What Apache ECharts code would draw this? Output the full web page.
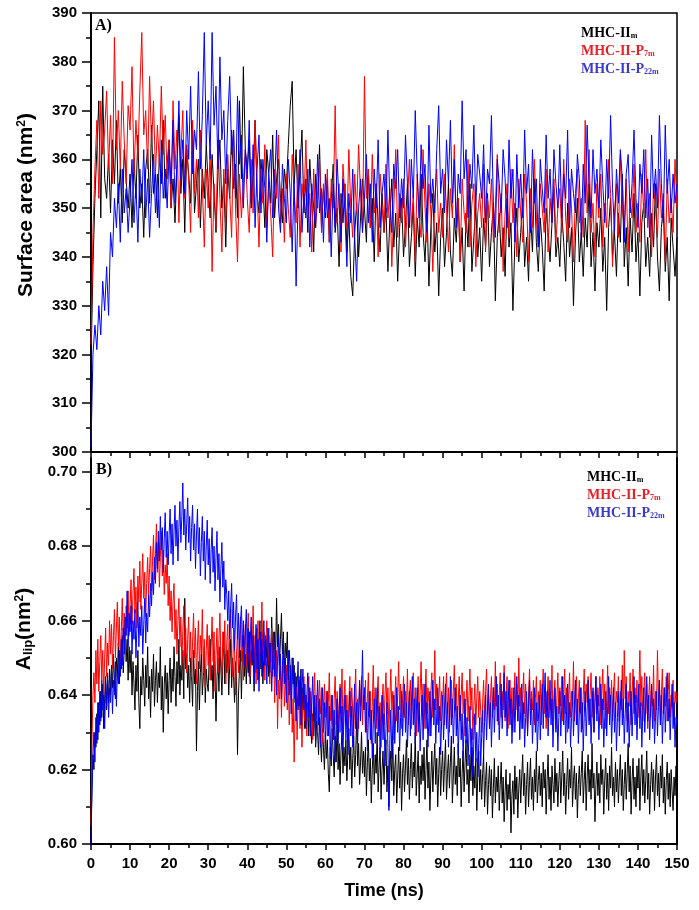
<!DOCTYPE html>
<html><head><meta charset="utf-8">
<script src="https://cdn.jsdelivr.net/npm/echarts@6/dist/echarts.min.js"></script>
<style>html,body{margin:0;padding:0;background:#fff}#c{width:699px;height:910px}</style>
</head><body><div id="c"></div>
<script>
// sampling steps of the time axis (ns)
const stepA = 0.5;   // panel A
const stepB = 0.25;  // panel B
const seriesNames = ['MHC-IIm', 'MHC-II-P7m', 'MHC-II-P22m'];

// Panel A: surface area (nm^2), one value every 0.5 ns from 0 to 150 ns
const surfBlack = [
318,338,352,362,372,348,375,356,352,361,349,364,355,368,351,358,347,362,356,350,
357,346,360,352,365,350,355,344,358,362,351,367,353,357,348,361,355,368,352,359,
364,350,356,347,358,369,353,360,345,362,357,351,366,349,355,360,346,358,352,363,
355,348,361,353,345,357,364,350,356,342,358,352,366,354,359,348,372,356,379,362,
358,364,350,357,368,353,349,360,355,346,362,357,351,365,348,356,360,352,347,358,
354,363,371,376,355,362,350,358,366,349,356,345,360,352,341,357,350,363,346,354,
348,356,343,352,359,345,350,338,353,347,355,341,349,336,332,345,351,340,348,356,
350,343,358,346,352,339,355,347,341,353,345,350,337,348,356,342,349,335,346,352,
340,347,355,338,344,351,336,348,342,357,345,339,350,334,346,353,341,347,332,344,
350,338,345,355,341,336,348,343,352,339,346,333,349,342,355,337,344,350,340,346,
335,348,342,353,338,345,351,331,344,349,340,346,336,352,342,347,329,343,350,339,
345,352,338,344,335,349,341,356,343,337,348,342,333,350,345,339,347,354,340,344,
338,349,343,335,351,340,346,330,344,352,339,345,336,348,342,355,338,345,333,347,
342,350,337,344,329,346,352,340,345,336,349,343,357,338,346,334,348,341,353,339,
345,332,347,351,338,344,336,349,342,355,340,333,346,350,337,344,331,348,342,336,
344];
const surfRed = [
322,345,358,368,352,372,361,366,374,358,369,355,385,362,370,358,376,364,355,371,
366,379,357,368,360,374,386,365,370,358,377,363,372,357,367,359,375,361,369,356,
364,350,372,358,366,347,361,370,352,363,356,345,368,353,360,348,366,355,342,358,
350,362,337,355,346,364,352,341,358,347,361,353,344,366,350,339,357,348,355,362,
352,345,360,349,368,355,342,358,351,363,346,355,349,340,358,352,365,347,354,343,
357,350,344,361,353,347,359,342,355,350,364,348,353,341,358,346,352,360,345,355,
349,358,343,356,350,371,347,355,341,359,352,346,362,350,344,357,349,363,353,345,
377,352,358,346,361,349,355,340,357,351,345,359,348,354,338,350,362,344,353,347,
356,342,351,360,346,353,339,357,348,344,362,350,343,355,349,337,352,358,345,351,
344,357,350,341,354,348,363,346,352,339,356,349,345,360,342,351,355,338,349,353,
346,359,341,352,348,356,343,350,361,345,353,337,349,355,344,358,347,351,340,356,
349,343,357,351,339,354,346,360,348,342,355,350,345,358,341,352,347,356,343,350,
354,345,360,348,343,356,350,339,353,358,347,352,344,368,349,362,345,351,340,355,
348,357,342,351,346,360,353,338,349,355,344,361,350,346,356,341,352,348,359,345,
351,343,357,349,362,346,353,340,355,350,344,358,348,353,339,356,347,352,345,360,
350];
const surfBlue = [
301,320,326,321,330,324,335,329,338,328,345,340,352,346,355,343,358,349,354,345,
352,360,347,355,343,358,351,362,348,356,344,353,361,349,357,346,364,352,358,350,
362,355,368,351,359,372,356,364,353,370,360,375,357,366,362,378,358,369,386,363,
372,360,386,367,375,358,381,364,370,355,368,377,361,366,352,373,359,365,350,362,
356,368,351,363,346,358,365,349,360,354,343,357,362,348,355,366,350,345,359,352,
347,360,353,341,356,334,351,362,345,353,348,358,342,355,350,346,361,349,354,343,
357,348,352,340,355,346,360,351,343,356,349,338,353,347,358,344,335,350,356,345,
352,361,347,355,343,358,350,364,346,353,357,349,366,351,345,359,354,362,348,356,
350,365,355,346,360,352,370,357,348,363,354,359,345,367,351,356,349,362,371,353,
358,349,364,355,368,351,360,346,357,353,372,356,362,348,359,354,367,350,361,357,
352,363,347,358,355,369,351,344,360,355,349,362,356,346,364,352,358,343,361,350,
357,348,366,353,359,345,362,351,356,342,360,354,349,365,352,358,347,362,355,350,
363,348,357,352,366,346,358,353,349,361,356,344,359,351,367,355,348,362,353,358,
350,364,355,347,360,352,369,354,345,358,351,362,356,343,357,361,349,355,366,352,
346,359,353,362,348,356,344,365,352,358,350,369,355,347,367,353,360,349,357,351,
355];

// Panel B: area per lipid (nm^2), one value every 0.25 ns from 0 to 150 ns
const alipBlack = [
0.603,0.615,0.624,0.620,0.630,0.626,0.635,0.628,0.638,0.632,0.641,0.634,0.643,0.631,0.639,0.645,0.636,0.644,0.638,0.647,
0.640,0.648,0.642,0.651,0.644,0.639,0.650,0.645,0.654,0.643,0.651,0.647,0.656,0.646,0.652,0.658,0.649,0.655,0.644,0.653,
0.646,0.652,0.640,0.649,0.643,0.636,0.648,0.641,0.652,0.638,0.631,0.645,0.640,0.650,0.644,0.637,0.648,0.642,0.653,0.639,
0.645,0.634,0.647,0.641,0.651,0.637,0.644,0.649,0.638,0.646,0.642,0.653,0.636,0.645,0.630,0.643,0.648,0.639,0.646,0.635,
0.644,0.650,0.638,0.647,0.641,0.653,0.645,0.637,0.649,0.643,0.655,0.640,0.648,0.644,0.652,0.639,0.666,0.647,0.651,0.642,
0.648,0.638,0.650,0.645,0.637,0.652,0.643,0.647,0.625,0.641,0.649,0.636,0.646,0.651,0.640,0.645,0.653,0.638,0.647,0.643,
0.641,0.650,0.655,0.644,0.648,0.639,0.652,0.646,0.633,0.645,0.650,0.641,0.653,0.647,0.640,0.649,0.657,0.643,0.651,0.646,
0.652,0.640,0.648,0.655,0.642,0.650,0.645,0.638,0.649,0.644,0.624,0.640,0.647,0.652,0.639,0.650,0.656,0.645,0.651,0.643,
0.651,0.646,0.657,0.643,0.652,0.648,0.654,0.641,0.650,0.646,0.658,0.644,0.652,0.660,0.647,0.655,0.643,0.652,0.648,0.656,
0.650,0.658,0.645,0.654,0.649,0.661,0.652,0.647,0.657,0.650,0.666,0.653,0.659,0.648,0.655,0.662,0.651,0.657,0.646,0.654,
0.650,0.657,0.644,0.652,0.647,0.641,0.650,0.643,0.648,0.638,0.645,0.640,0.636,0.644,0.639,0.647,0.634,0.642,0.637,0.631,
0.640,0.633,0.638,0.629,0.636,0.631,0.627,0.635,0.629,0.637,0.626,0.633,0.630,0.624,0.634,0.628,0.622,0.631,0.626,0.620,
0.630,0.623,0.628,0.619,0.614,0.626,0.621,0.631,0.624,0.618,0.629,0.622,0.633,0.620,0.627,0.616,0.625,0.630,0.619,0.626,
0.621,0.628,0.617,0.625,0.631,0.620,0.626,0.615,0.623,0.629,0.618,0.624,0.634,0.621,0.627,0.616,0.622,0.630,0.619,0.625,
0.618,0.626,0.613,0.622,0.628,0.617,0.623,0.611,0.620,0.627,0.616,0.624,0.619,0.630,0.614,0.621,0.626,0.612,0.620,0.625,
0.616,0.623,0.628,0.614,0.621,0.610,0.619,0.625,0.617,0.629,0.613,0.620,0.624,0.611,0.618,0.626,0.615,0.622,0.609,0.619,
0.624,0.614,0.621,0.628,0.616,0.623,0.612,0.620,0.627,0.615,0.622,0.618,0.630,0.613,0.619,0.625,0.611,0.621,0.616,0.624,
0.617,0.626,0.612,0.620,0.628,0.615,0.622,0.609,0.618,0.625,0.614,0.621,0.627,0.616,0.623,0.610,0.619,0.626,0.613,0.620,
0.625,0.614,0.621,0.628,0.612,0.619,0.624,0.615,0.622,0.629,0.611,0.618,0.626,0.616,0.621,0.613,0.627,0.618,0.623,0.610,
0.619,0.625,0.614,0.622,0.628,0.616,0.620,0.611,0.624,0.617,0.626,0.613,0.621,0.615,0.623,0.609,0.618,0.625,0.614,0.620,
0.612,0.619,0.624,0.610,0.617,0.622,0.608,0.616,0.621,0.613,0.620,0.607,0.615,0.623,0.611,0.618,0.614,0.621,0.609,0.616,
0.622,0.611,0.618,0.606,0.614,0.620,0.609,0.616,0.612,0.619,0.603,0.613,0.617,0.608,0.621,0.612,0.618,0.607,0.615,0.620,
0.611,0.618,0.624,0.613,0.619,0.608,0.616,0.622,0.610,0.617,0.623,0.612,0.618,0.609,0.620,0.614,0.625,0.611,0.617,0.621,
0.613,0.619,0.610,0.622,0.615,0.620,0.608,0.617,0.624,0.612,0.618,0.609,0.621,0.616,0.611,0.623,0.614,0.619,0.610,0.617,
0.622,0.611,0.618,0.625,0.613,0.619,0.608,0.616,0.623,0.612,0.620,0.615,0.626,0.610,0.617,0.621,0.612,0.619,0.607,0.616,
0.621,0.613,0.619,0.625,0.611,0.617,0.622,0.609,0.618,0.624,0.614,0.620,0.612,0.627,0.615,0.619,0.606,0.616,0.622,0.613,
0.619,0.611,0.624,0.616,0.620,0.608,0.617,0.623,0.612,0.619,0.609,0.621,0.615,0.626,0.613,0.618,0.610,0.622,0.614,0.620,
0.611,0.618,0.624,0.613,0.620,0.609,0.616,0.622,0.612,0.619,0.627,0.614,0.621,0.608,0.617,0.623,0.612,0.618,0.610,0.621,
0.615,0.623,0.609,0.618,0.624,0.613,0.620,0.611,0.617,0.625,0.612,0.619,0.608,0.616,0.622,0.614,0.620,0.609,0.618,0.624,
0.613,0.619,0.610,0.621,0.615,0.624,0.611,0.618,0.608,0.617,0.622,0.612,0.619,0.610,0.620,0.614,0.609,0.618,0.613,0.621,
0.614];
const alipRed = [
0.605,0.628,0.640,0.646,0.638,0.652,0.643,0.655,0.641,0.649,0.656,0.644,0.652,0.640,0.650,0.658,0.645,0.654,0.648,0.660,
0.651,0.659,0.647,0.656,0.663,0.650,0.658,0.665,0.653,0.661,0.648,0.657,0.666,0.655,0.662,0.651,0.664,0.658,0.668,0.656,
0.664,0.671,0.659,0.667,0.674,0.662,0.669,0.658,0.672,0.665,0.676,0.663,0.670,0.678,0.666,0.673,0.661,0.670,0.677,0.667,
0.674,0.680,0.668,0.676,0.683,0.671,0.678,0.686,0.673,0.681,0.669,0.677,0.684,0.672,0.679,0.667,0.675,0.670,0.678,0.664,
0.672,0.660,0.668,0.657,0.665,0.670,0.655,0.663,0.651,0.660,0.666,0.653,0.661,0.648,0.657,0.664,0.650,0.658,0.646,0.655,
0.661,0.649,0.657,0.645,0.654,0.662,0.650,0.658,0.643,0.653,0.660,0.647,0.656,0.651,0.663,0.646,0.655,0.642,0.652,0.659,
0.648,0.656,0.644,0.653,0.661,0.649,0.657,0.641,0.651,0.658,0.646,0.655,0.662,0.650,0.645,0.657,0.652,0.660,0.643,0.654,
0.659,0.647,0.655,0.663,0.650,0.645,0.658,0.652,0.640,0.651,0.657,0.646,0.654,0.661,0.649,0.656,0.644,0.653,0.659,0.648,
0.655,0.662,0.650,0.645,0.657,0.651,0.664,0.648,0.656,0.643,0.653,0.660,0.647,0.655,0.651,0.665,0.649,0.657,0.644,0.654,
0.660,0.648,0.656,0.643,0.652,0.658,0.645,0.654,0.638,0.647,0.652,0.631,0.644,0.639,0.648,0.634,0.645,0.652,0.637,0.643,
0.648,0.636,0.644,0.632,0.641,0.647,0.630,0.639,0.622,0.636,0.642,0.628,0.637,0.644,0.631,0.640,0.626,0.638,0.645,0.633,
0.640,0.629,0.637,0.645,0.632,0.641,0.636,0.628,0.639,0.646,0.633,0.640,0.630,0.638,0.644,0.635,0.642,0.627,0.637,0.643,
0.634,0.641,0.629,0.638,0.646,0.633,0.640,0.636,0.628,0.639,0.645,0.632,0.641,0.637,0.630,0.643,0.635,0.647,0.631,0.639,
0.644,0.633,0.640,0.628,0.638,0.645,0.634,0.642,0.636,0.629,0.640,0.647,0.633,0.639,0.631,0.643,0.637,0.645,0.632,0.640,
0.636,0.644,0.630,0.639,0.646,0.634,0.641,0.627,0.637,0.648,0.635,0.642,0.631,0.640,0.645,0.633,0.638,0.626,0.637,0.643,
0.632,0.640,0.646,0.635,0.642,0.630,0.639,0.647,0.636,0.641,0.628,0.638,0.645,0.633,0.640,0.649,0.636,0.643,0.631,0.639,
0.645,0.634,0.641,0.637,0.647,0.632,0.640,0.644,0.631,0.639,0.646,0.635,0.642,0.629,0.638,0.645,0.633,0.641,0.649,0.636,
0.643,0.631,0.640,0.647,0.635,0.642,0.638,0.629,0.641,0.646,0.634,0.640,0.652,0.636,0.643,0.632,0.639,0.645,0.633,0.641,
0.637,0.645,0.632,0.640,0.646,0.635,0.642,0.630,0.639,0.644,0.634,0.641,0.648,0.636,0.643,0.631,0.638,0.645,0.633,0.640,
0.646,0.635,0.641,0.629,0.638,0.644,0.633,0.640,0.647,0.636,0.642,0.628,0.637,0.643,0.632,0.639,0.645,0.634,0.641,0.636,
0.630,0.638,0.644,0.633,0.641,0.647,0.635,0.640,0.631,0.639,0.645,0.634,0.642,0.636,0.649,0.637,0.643,0.632,0.640,0.646,
0.634,0.641,0.636,0.648,0.633,0.640,0.645,0.631,0.639,0.644,0.635,0.642,0.630,0.638,0.646,0.636,0.643,0.633,0.650,0.637,
0.642,0.631,0.639,0.646,0.635,0.643,0.637,0.630,0.640,0.647,0.634,0.641,0.636,0.644,0.632,0.639,0.645,0.633,0.641,0.637,
0.644,0.632,0.640,0.647,0.635,0.642,0.631,0.638,0.645,0.634,0.641,0.636,0.648,0.633,0.640,0.644,0.631,0.639,0.646,0.635,
0.642,0.637,0.645,0.633,0.640,0.647,0.635,0.642,0.630,0.639,0.646,0.634,0.641,0.637,0.649,0.633,0.640,0.645,0.632,0.639,
0.644,0.635,0.642,0.631,0.640,0.647,0.636,0.643,0.638,0.645,0.633,0.640,0.646,0.634,0.641,0.630,0.639,0.645,0.635,0.642,
0.637,0.645,0.632,0.640,0.647,0.636,0.643,0.631,0.639,0.648,0.635,0.642,0.637,0.644,0.633,0.640,0.646,0.634,0.641,0.638,
0.645,0.633,0.641,0.636,0.648,0.634,0.652,0.639,0.645,0.633,0.641,0.637,0.646,0.632,0.640,0.647,0.635,0.642,0.638,0.644,
0.634,0.641,0.652,0.637,0.645,0.633,0.640,0.646,0.635,0.643,0.631,0.639,0.645,0.634,0.642,0.637,0.648,0.633,0.641,0.636,
0.652,0.638,0.644,0.632,0.640,0.647,0.635,0.642,0.637,0.645,0.633,0.641,0.646,0.634,0.640,0.637,0.644,0.632,0.641,0.638,
0.641];
const alipBlue = [
0.600,0.614,0.624,0.630,0.622,0.634,0.627,0.638,0.630,0.641,0.633,0.644,0.636,0.640,0.631,0.643,0.637,0.646,0.634,0.642,
0.638,0.647,0.635,0.644,0.640,0.649,0.637,0.646,0.643,0.652,0.645,0.655,0.648,0.658,0.651,0.661,0.656,0.668,0.653,0.662,
0.657,0.664,0.651,0.660,0.655,0.663,0.650,0.658,0.665,0.653,0.661,0.656,0.664,0.651,0.659,0.666,0.654,0.662,0.657,0.667,
0.661,0.670,0.664,0.673,0.667,0.677,0.670,0.681,0.674,0.684,0.676,0.688,0.679,0.685,0.673,0.682,0.689,0.677,0.684,0.675,
0.683,0.690,0.678,0.686,0.675,0.684,0.691,0.680,0.687,0.676,0.685,0.692,0.681,0.688,0.697,0.683,0.690,0.679,0.686,0.693,
0.681,0.688,0.676,0.685,0.691,0.679,0.686,0.674,0.683,0.690,0.678,0.685,0.672,0.681,0.688,0.676,0.684,0.671,0.680,0.687,
0.675,0.682,0.670,0.679,0.685,0.673,0.680,0.668,0.677,0.684,0.671,0.678,0.665,0.674,0.681,0.669,0.676,0.663,0.671,0.667,
0.660,0.668,0.655,0.664,0.670,0.658,0.665,0.652,0.661,0.667,0.655,0.662,0.650,0.659,0.664,0.653,0.660,0.648,0.657,0.663,
0.651,0.658,0.645,0.654,0.661,0.649,0.656,0.643,0.652,0.659,0.647,0.655,0.641,0.650,0.657,0.645,0.653,0.660,0.648,0.655,
0.643,0.652,0.658,0.646,0.654,0.641,0.650,0.657,0.645,0.653,0.640,0.649,0.656,0.644,0.651,0.639,0.648,0.655,0.643,0.650,
0.638,0.646,0.652,0.640,0.648,0.635,0.644,0.650,0.639,0.646,0.633,0.642,0.649,0.637,0.645,0.632,0.641,0.647,0.636,0.643,
0.631,0.640,0.646,0.634,0.642,0.629,0.638,0.645,0.633,0.640,0.627,0.637,0.644,0.632,0.639,0.626,0.636,0.642,0.630,0.638,
0.627,0.635,0.641,0.629,0.637,0.623,0.633,0.640,0.628,0.636,0.622,0.632,0.639,0.627,0.635,0.642,0.630,0.637,0.625,0.634,
0.640,0.628,0.636,0.624,0.633,0.641,0.629,0.637,0.626,0.635,0.643,0.631,0.638,0.627,0.636,0.644,0.633,0.640,0.652,0.636,
0.642,0.630,0.638,0.625,0.634,0.641,0.628,0.636,0.623,0.632,0.639,0.627,0.635,0.642,0.629,0.637,0.624,0.633,0.640,0.628,
0.635,0.621,0.631,0.638,0.626,0.609,0.628,0.636,0.623,0.632,0.640,0.627,0.635,0.642,0.630,0.637,0.625,0.634,0.641,0.629,
0.636,0.643,0.630,0.638,0.626,0.634,0.641,0.629,0.637,0.645,0.632,0.639,0.627,0.635,0.642,0.630,0.638,0.625,0.633,0.640,
0.628,0.636,0.643,0.631,0.638,0.626,0.634,0.641,0.629,0.637,0.644,0.632,0.639,0.627,0.635,0.642,0.630,0.637,0.624,0.633,
0.640,0.628,0.636,0.643,0.631,0.638,0.626,0.634,0.645,0.632,0.639,0.627,0.635,0.642,0.629,0.637,0.624,0.633,0.640,0.628,
0.635,0.623,0.632,0.639,0.627,0.634,0.621,0.630,0.637,0.624,0.631,0.618,0.628,0.635,0.622,0.630,0.618,0.627,0.634,0.621,
0.629,0.636,0.624,0.633,0.640,0.628,0.636,0.643,0.631,0.638,0.626,0.635,0.642,0.630,0.638,0.645,0.633,0.640,0.628,0.636,
0.643,0.631,0.639,0.646,0.634,0.641,0.629,0.637,0.644,0.632,0.639,0.627,0.635,0.642,0.630,0.638,0.645,0.633,0.640,0.628,
0.636,0.643,0.631,0.638,0.626,0.634,0.641,0.629,0.637,0.644,0.632,0.639,0.627,0.635,0.642,0.630,0.638,0.625,0.633,0.640,
0.628,0.636,0.643,0.631,0.639,0.646,0.634,0.641,0.629,0.637,0.644,0.632,0.639,0.626,0.635,0.642,0.630,0.637,0.625,0.634,
0.641,0.629,0.637,0.645,0.632,0.640,0.627,0.636,0.643,0.631,0.638,0.626,0.634,0.641,0.629,0.637,0.644,0.632,0.639,0.627,
0.635,0.642,0.630,0.638,0.625,0.634,0.641,0.629,0.636,0.644,0.632,0.639,0.627,0.635,0.642,0.630,0.638,0.645,0.633,0.640,
0.628,0.636,0.643,0.631,0.639,0.626,0.634,0.641,0.629,0.637,0.645,0.632,0.640,0.627,0.635,0.642,0.630,0.638,0.625,0.634,
0.641,0.629,0.637,0.644,0.632,0.639,0.627,0.635,0.643,0.630,0.638,0.626,0.634,0.641,0.629,0.637,0.645,0.632,0.640,0.628,
0.636,0.643,0.631,0.638,0.626,0.635,0.642,0.630,0.637,0.645,0.633,0.640,0.628,0.636,0.643,0.631,0.639,0.627,0.634,0.641,
0.629,0.637,0.644,0.632,0.640,0.627,0.635,0.642,0.630,0.638,0.646,0.633,0.639,0.628,0.636,0.643,0.631,0.638,0.626,0.634,
0.632];

// tick values of panel B's y axis
const bMajorTicks = [0.60, 0.62, 0.64, 0.66, 0.68, 0.70];
const bMinorTicks = [0.61, 0.63, 0.65, 0.67, 0.69];

const pair = (arr, step) => arr.map((v, i) => [i * step, v]);

const SANS = '"Liberation Sans", Arial, sans-serif';
const SERIF = '"Liberation Serif", "Times New Roman", serif';
const lineColors = ['#000000', '#ff0000', '#0000ff'];
const legendColors = ['#000000', '#e8202a', '#3b3bc9'];
const axisLine = {show: true, lineStyle: {color: '#000', width: 2}};
const tickStyle = {color: '#000', width: 1.5};
const lbl = {color: '#000', fontFamily: SANS, fontWeight: 'bold', fontSize: 15};

const legendFmt = {
  'MHC-IIm': '{b|MHC-II}{s|m}',
  'MHC-II-P7m': '{b|MHC-II-P}{s|7m}',
  'MHC-II-P22m': '{b|MHC-II-P}{s|22m}'
};
function makeLegend(left, top) {
  return {
    left: left, top: top, orient: 'vertical', icon: 'none', itemWidth: 0, itemHeight: 14,
    itemGap: 4, padding: 0, selectedMode: false,
    formatter: n => legendFmt[n],
    data: seriesNames.map((n, i) => ({name: n, textStyle: {color: legendColors[i]}})),
    textStyle: {
      fontFamily: SERIF, fontWeight: 'bold', fontSize: 14,
      rich: {
        b: {fontFamily: SERIF, fontWeight: 'bold', fontSize: 14, verticalAlign: 'bottom'},
        s: {fontFamily: SERIF, fontWeight: 'bold', fontSize: 8, verticalAlign: 'bottom'}
      }
    }
  };
}

const chart = echarts.init(document.getElementById('c'), null, {renderer: 'canvas'});
const panelA = [surfBlack, surfRed, surfBlue];
const panelB = [alipBlack, alipRed, alipBlue];
const series = [];
panelA.forEach((arr, i) => series.push({
  type: 'line', name: seriesNames[i], xAxisIndex: 0, yAxisIndex: 0, data: pair(arr, stepA),
  showSymbol: false, symbol: 'none', silent: true, animation: false, sampling: false,
  lineStyle: {width: 1, color: lineColors[i]}, itemStyle: {color: lineColors[i]}
}));
panelB.forEach((arr, i) => series.push({
  type: 'line', name: seriesNames[i], xAxisIndex: 1, yAxisIndex: 1, data: pair(arr, stepB),
  showSymbol: false, symbol: 'none', silent: true, animation: false, sampling: false,
  lineStyle: {width: 1, color: lineColors[i]}, itemStyle: {color: lineColors[i]}
}));

const titleRich = {
  a: {fontFamily: SANS, fontWeight: 'bold', fontSize: 21, fill: '#000'},
  p: {fontFamily: SANS, fontWeight: 'bold', fontSize: 12, fill: '#000', verticalAlign: 'top'},
  s: {fontFamily: SANS, fontWeight: 'bold', fontSize: 13, fill: '#000', verticalAlign: 'bottom'}
};

chart.setOption({
  animation: false,
  backgroundColor: '#fff',
  grid: [
    {left: 91, right: 22, top: 13, height: 439, show: true, borderColor: '#000', borderWidth: 1.5, backgroundColor: 'transparent'},
    {left: 91, right: 22, top: 458, bottom: 66}
  ],
  legend: [makeLegend(576, 26), makeLegend(582, 470)],
  xAxis: [
    {gridIndex: 0, type: 'value', min: 0, max: 150, interval: 10, axisLine: axisLine,
     axisTick: {show: true, length: 6, lineStyle: tickStyle},
     minorTick: {show: true, splitNumber: 2, length: 4, lineStyle: tickStyle},
     axisLabel: {show: false}, splitLine: {show: false}},
    {gridIndex: 1, type: 'value', min: 0, max: 150, interval: 10, axisLine: axisLine,
     axisTick: {show: true, length: 6, lineStyle: tickStyle},
     minorTick: {show: true, splitNumber: 2, length: 4, lineStyle: tickStyle},
     axisLabel: Object.assign({margin: 12}, lbl), splitLine: {show: false},
     name: 'Time (ns)', nameLocation: 'middle', nameGap: 38,
     nameTextStyle: {fontFamily: SANS, fontWeight: 'bold', fontSize: 18, color: '#000'}}
  ],
  yAxis: [
    {gridIndex: 0, type: 'value', min: 300, max: 390, interval: 10, axisLine: axisLine,
     axisTick: {show: true, length: 9, lineStyle: tickStyle},
     minorTick: {show: true, splitNumber: 2, length: 5, lineStyle: tickStyle},
     axisLabel: Object.assign({margin: 14}, lbl), splitLine: {show: false}},
    {gridIndex: 1, type: 'value', min: 0.6, max: 0.7037, position: 'left', axisLine: axisLine,
     axisTick: {show: true, length: 9, lineStyle: tickStyle, customValues: bMajorTicks},
     axisLabel: Object.assign({margin: 14, customValues: bMajorTicks, formatter: v => v.toFixed(2)}, lbl),
     splitLine: {show: false}},
    {gridIndex: 1, type: 'value', min: 0.6, max: 0.7037, position: 'left', axisLine: {show: false},
     axisTick: {show: true, length: 5, lineStyle: tickStyle, customValues: bMinorTicks},
     axisLabel: {show: false}, splitLine: {show: false}},
    {gridIndex: 1, type: 'value', min: 0.6, max: 0.7037, position: 'right', axisLine: axisLine,
     axisTick: {show: false}, axisLabel: {show: false}, splitLine: {show: false}}
  ],
  graphic: [
    {type: 'text', left: 95, top: 18, z: 100, style: {text: 'A)', fill: '#000', font: 'bold 16px ' + SERIF}},
    {type: 'text', left: 96, top: 462, z: 100, style: {text: 'B)', fill: '#000', font: 'bold 16px ' + SERIF}},
    {type: 'text', x: 26, y: 205, rotation: Math.PI / 2, z: 100,
     style: {text: '{a|Surface area (nm}{p|2}{a|)}', rich: titleRich, align: 'center', verticalAlign: 'middle'}},
    {type: 'text', x: 24, y: 629, rotation: Math.PI / 2, z: 100,
     style: {text: '{a|A}{s|lip}{a|(nm}{p|2}{a|)}', rich: titleRich, align: 'center', verticalAlign: 'middle'}}
  ],
  series: series
});
</script>
</body></html>
